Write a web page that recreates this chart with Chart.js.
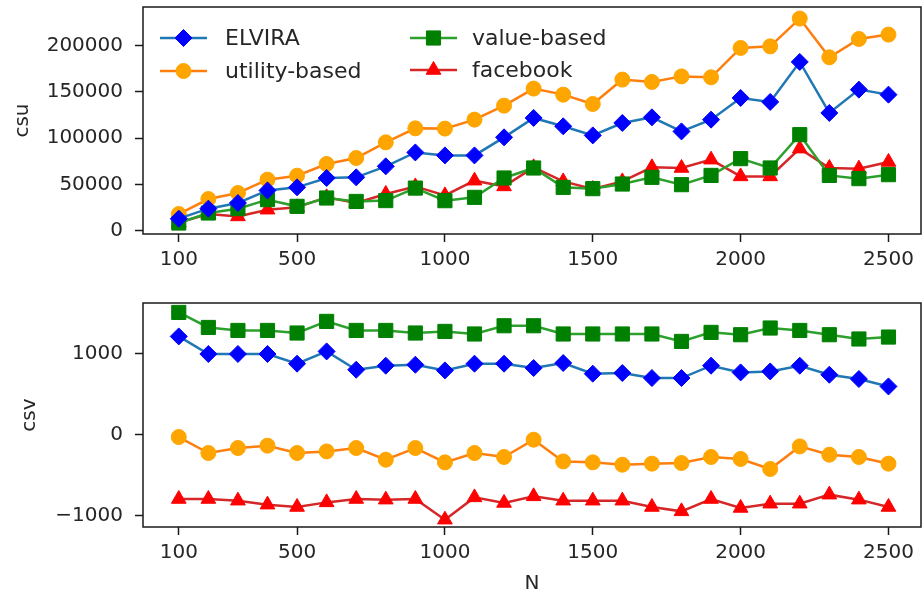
<!DOCTYPE html>
<html><head><meta charset="utf-8">
<script src="https://cdn.jsdelivr.net/npm/chart.js@4/dist/chart.umd.min.js"></script>
<style>
html,body{margin:0;padding:0;background:#fff;}
body{width:924px;height:596px;overflow:hidden;position:relative;}
.box{position:absolute;left:0;width:924px;}
#b1{top:0;height:270px;}
#b2{top:290px;height:306px;}
</style></head><body>
<div class="box" id="b1"><canvas id="c1"></canvas></div>
<div class="box" id="b2"><canvas id="c2"></canvas></div>
<script>
// ---- data ----
const N = [100,200,300,400,500,600,700,800,900,1000,1100,1200,1300,1400,1500,1600,1700,1800,1900,2000,2100,2200,2300,2400,2500];
const xTickValues = [100,500,1000,1500,2000,2500];
const csuTickValues = [0,50000,100000,150000,200000];
const csvTickValues = [-1000,0,1000];
const seriesNames = ['ELVIRA','utility-based','value-based','facebook'];

const csuElvira   = [13000,23800,29900,43500,46800,56900,57600,69500,84500,81300,81300,100800,121700,112700,102900,116300,122400,107200,119900,143300,139000,182200,127100,152300,146900];
const csuUtility  = [18000,34200,40700,55100,59400,72000,78500,95400,110500,110200,119900,135000,153400,146900,136800,163100,160600,166600,165600,197300,199000,229000,187200,207000,211700];
const csuValue    = [8300,19100,23800,33500,26300,35300,31600,32500,46000,32400,36000,56900,67700,46800,45400,50400,57600,49700,59700,77800,67700,103700,59700,56200,60500];
const csuFacebook = [8800,18000,15400,22700,25200,36000,29900,39600,47800,38100,54000,47800,68400,53200,45000,53200,68400,67700,76700,58600,58600,88600,67700,67000,74200];

const csvElvira   = [1218,1000,1000,1000,880,1032,805,855,867,797,880,880,826,888,756,764,702,702,855,772,784,855,743,690,598];
const csvUtility  = [-29,-227,-165,-136,-227,-207,-165,-310,-165,-343,-227,-276,-62,-331,-343,-372,-359,-351,-276,-301,-425,-145,-248,-276,-359];
const csvValue    = [1515,1329,1292,1292,1260,1404,1292,1292,1260,1280,1248,1350,1350,1248,1248,1248,1248,1156,1268,1239,1322,1292,1239,1186,1210];
const csvFacebook = [-797,-797,-818,-867,-896,-839,-797,-805,-797,-1053,-777,-846,-764,-818,-818,-818,-896,-950,-797,-908,-855,-855,-743,-805,-896];

// ---- styles ----
const FONT = 'DejaVu Sans';
const TXT = '#262626';
const styles = [
  {line:'#1f77b4', mark:'#0000ff', shape:'rectRot', r:8.5},
  {line:'#ff7f0e', mark:'#ffa500', shape:'circle', r:7.5},
  {line:'#2ca02c', mark:'#008000', shape:'rect', r:10},
  {line:'#d62728', mark:'#ff0000', shape:'triangle', r:8.5}
];

function mkDatasets(arrs){
  return arrs.map((a,i)=>({
    label: seriesNames[i],
    data: N.map((x,j)=>({x:x, y:a[j]})),
    borderColor: styles[i].line,
    borderWidth: 2.5,
    backgroundColor: styles[i].mark,
    pointBackgroundColor: styles[i].mark,
    pointBorderColor: styles[i].mark,
    pointBorderWidth: 1,
    pointStyle: styles[i].shape,
    pointRadius: styles[i].r,
    pointHoverRadius: styles[i].r,
    tension: 0,
    fill: false,
    clip: 6
  }));
}

const framePlugin = {
  id:'frame',
  afterDraw(chart){
    const {ctx, chartArea:a} = chart;
    ctx.save();
    ctx.strokeStyle = '#1a1a1a';
    ctx.lineWidth = 1.5;
    ctx.strokeRect(a.left, a.top, a.right-a.left, a.bottom-a.top);
    ctx.restore();
  }
};

function drawMarker(ctx, shape, r, x, y, color){
  ctx.save();
  ctx.fillStyle = color; ctx.strokeStyle = color; ctx.lineWidth = 1;
  ctx.beginPath();
  if (shape==='circle'){ ctx.arc(x,y,r,0,Math.PI*2); }
  else if (shape==='rectRot'){ ctx.moveTo(x-r,y); ctx.lineTo(x,y-r); ctx.lineTo(x+r,y); ctx.lineTo(x,y+r); ctx.closePath(); }
  else if (shape==='rect'){ const s=r*Math.SQRT1_2; ctx.rect(x-s,y-s,2*s,2*s); }
  else if (shape==='triangle'){ ctx.moveTo(x,y-r); ctx.lineTo(x+r*0.866,y+r/2); ctx.lineTo(x-r*0.866,y+r/2); ctx.closePath(); }
  ctx.fill(); ctx.stroke();
  ctx.restore();
}

const legendPlugin = {
  id:'customLegend',
  afterDraw(chart){
    const ctx = chart.ctx;
    const pos = [
      {x0:160, y:38, tx:225},
      {x0:160, y:71, tx:225},
      {x0:410, y:38, tx:472},
      {x0:410, y:70, tx:472}
    ];
    chart.data.datasets.forEach((ds,i)=>{
      const p = pos[i];
      ctx.save();
      ctx.strokeStyle = ds.borderColor; ctx.lineWidth = 2.5;
      ctx.beginPath(); ctx.moveTo(p.x0,p.y); ctx.lineTo(p.x0+47,p.y); ctx.stroke();
      ctx.restore();
      drawMarker(ctx, ds.pointStyle, ds.pointRadius, p.x0+23.5, p.y, ds.pointBackgroundColor);
      ctx.save();
      ctx.fillStyle = TXT; ctx.font = '22px "'+FONT+'"';
      ctx.textBaseline = 'middle'; ctx.textAlign = 'left';
      ctx.fillText(ds.label, p.tx, p.y+1);
      ctx.restore();
    });
  }
};

const fmt = v => String(v).replace('-', '\u2212');
const zeroPad = s => { s.paddingTop = 0; s.paddingBottom = 0; s.paddingLeft = 0; s.paddingRight = 0; };

function makeChart(id, arrs, yTicks, yMin, yMax, yTitle, opts){
  return new Chart(document.getElementById(id), {
    type:'line',
    data:{ datasets: mkDatasets(arrs) },
    options:{
      responsive:true, maintainAspectRatio:false, animation:false, devicePixelRatio:1,
      events:[],
      layout:{ autoPadding:false, padding:{ left:opts.padLeft, right:3, top:opts.padTop, bottom:opts.padBottom } },
      plugins:{ legend:{display:false}, tooltip:{enabled:false} },
      scales:{
        x:{
          type:'linear', min:-21, max:2610,
          afterBuildTicks: s => { s.ticks = xTickValues.map(v=>({value:v})); },
          afterFit: s => { s.height = opts.xHeight; zeroPad(s); },
          ticks:{ font:{family:FONT,size:20}, color:TXT, padding:6, maxRotation:0, autoSkip:false, callback: v => fmt(v) },
          grid:{ drawOnChartArea:false, drawTicks:true, tickLength:8, tickWidth:1.5, tickColor:'#1a1a1a' },
          border:{ display:false },
          title:{ display: !!opts.xTitle, text: opts.xTitle || '', font:{family:FONT,size:20}, color:TXT, padding:0 }
        },
        y:{
          type:'linear', min:yMin, max:yMax,
          afterBuildTicks: s => { s.ticks = yTicks.map(v=>({value:v})); },
          afterFit: s => { s.width = opts.yWidth; zeroPad(s); },
          ticks:{ font:{family:FONT,size:20}, color:TXT, padding:12, autoSkip:false, callback: v => fmt(v) },
          grid:{ drawOnChartArea:false, drawTicks:true, tickLength:8, tickWidth:1.5, tickColor:'#1a1a1a' },
          border:{ display:false },
          title:{ display:true, text:yTitle, font:{family:FONT,size:20}, color:TXT, padding:0 }
        }
      }
    },
    plugins: opts.legend ? [framePlugin, legendPlugin] : [framePlugin]
  });
}

makeChart('c1', [csuElvira, csuUtility, csuValue, csuFacebook], csuTickValues, -3560, 241500, 'csu',
  {padLeft:11, padTop:7, padBottom:0, xHeight:36, yWidth:132, legend:true});
makeChart('c2', [csvElvira, csvUtility, csvValue, csvFacebook], csvTickValues, -1144, 1632, 'csv',
  {padLeft:18, padTop:13, padBottom:0, xHeight:69, yWidth:125, xTitle:'N', legend:false});
</script>
</body></html>
